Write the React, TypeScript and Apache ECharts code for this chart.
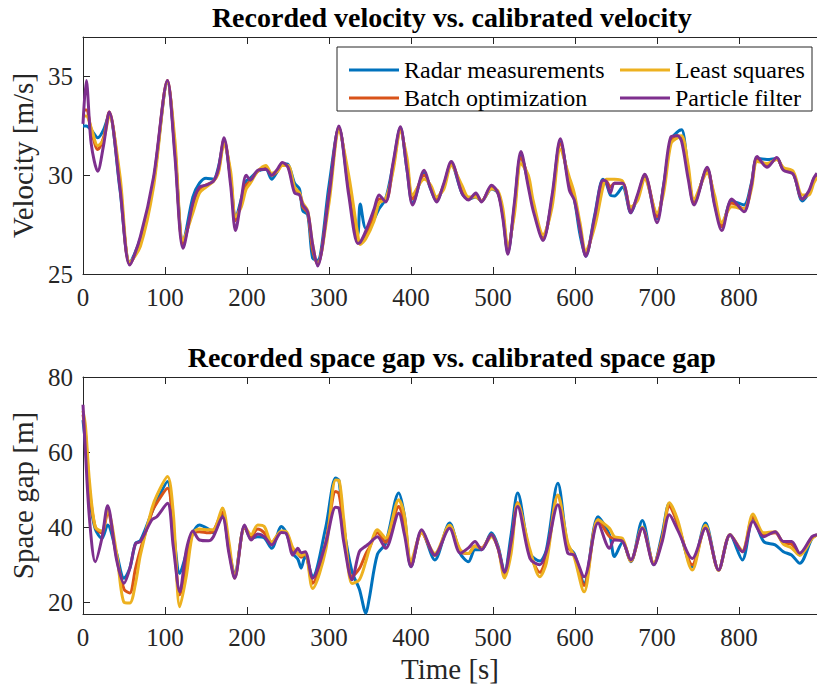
import React, { useEffect, useRef } from 'react';
import * as echarts from 'echarts';

// ---------- Velocity plot (top) ----------
const velTime = [
  0, 4, 10, 18, 25, 32, 45, 57, 70, 86,
  103, 112, 122, 134, 142, 150, 159, 165, 172, 180,
  186, 193, 199, 204, 213, 223, 230, 237, 243, 250,
  258, 264, 268, 274, 280, 286, 300, 312, 324, 335,
  338, 345, 355, 361, 369, 378, 387, 395, 402, 416,
  424, 431, 440, 449, 462, 470, 479, 486, 498, 506,
  512, 518, 526, 534, 543, 549, 561, 572, 582, 593,
  599, 606, 613, 624, 634, 638, 643, 648, 658, 668,
  676, 685, 700, 708, 717, 725, 730, 738, 745, 761,
  770, 779, 791, 806, 815, 822, 834, 846, 854, 866,
  877, 885, 891, 895,
];
const velRadar = [
  32.5, 32.5, 32.3, 31.9, 32.3, 33.1, 29.3, 25.6, 26.8, 29.7,
  34.7, 31.3, 26.6, 28.9, 29.6, 29.85, 29.8, 30.4, 31.7, 29.8,
  27.8, 28.8, 29.7, 29.85, 30.2, 30.3, 29.8, 30.2, 30.6, 30.55,
  29.6, 29.3, 28.2, 28.0, 25.8, 25.7, 29.5, 32.4, 29.3, 27.0,
  28.55, 27.3, 27.8, 28.3, 28.8, 30.5, 32.4, 30.3, 28.6, 30.1,
  29.3, 28.7, 29.5, 30.6, 29.1, 28.8, 28.9, 28.7, 29.3, 29.1,
  28.0, 26.1, 28.4, 31.0, 29.6, 28.4, 26.8, 28.8, 31.7, 29.5,
  28.8, 27.0, 25.9, 28.0, 29.8, 29.6, 29.0, 28.95, 29.4, 28.1,
  28.9, 29.9, 27.8, 29.5, 31.8, 32.2, 32.3, 30.2, 28.6, 30.3,
  28.6, 27.4, 28.7, 28.5, 29.6, 30.85, 30.8, 30.85, 30.3, 30.1,
  28.7, 29.1, 29.8, 30.0,
];
const velBatch = [
  33.3, 33.3, 32.3, 31.3, 31.9, 33.2, 29.6, 25.5, 26.7, 29.7,
  34.8, 31.4, 26.5, 28.4, 29.3, 29.5, 29.7, 30.2, 31.8, 29.9,
  27.7, 28.6, 29.5, 29.7, 30.2, 30.4, 30.0, 30.2, 30.6, 30.45,
  29.3, 29.1, 28.4, 28.1, 26.2, 25.5, 29.0, 32.4, 29.5, 26.7,
  26.6, 27.0, 28.0, 28.8, 28.7, 30.4, 32.3, 30.6, 28.8, 30.0,
  29.4, 28.8, 29.5, 30.6, 29.3, 28.8, 29.0, 28.7, 29.4, 29.1,
  28.0, 26.2, 28.3, 30.9, 29.8, 28.5, 26.8, 28.7, 31.6, 29.6,
  28.9, 27.3, 26.0, 27.7, 29.6, 29.7, 29.4, 29.6, 29.6, 28.2,
  28.9, 30.0, 27.9, 29.4, 31.8, 32.0, 31.9, 30.1, 28.6, 30.3,
  28.8, 27.4, 28.6, 28.3, 29.5, 30.85, 30.5, 30.85, 30.3, 30.1,
  28.8, 29.1, 29.8, 30.0,
];
const velLeastSq = [
  33.0, 33.0, 32.4, 31.5, 31.8, 33.0, 30.0, 25.6, 26.4, 29.4,
  34.7, 31.8, 26.7, 28.1, 29.1, 29.4, 29.7, 30.1, 31.6, 30.2,
  27.9, 28.4, 29.3, 29.6, 30.2, 30.5, 30.1, 30.2, 30.5, 30.5,
  29.4, 29.1, 28.6, 28.2, 26.5, 25.5, 28.6, 32.2, 30.0, 27.0,
  26.5, 26.8, 27.7, 28.6, 28.8, 30.2, 32.2, 30.9, 29.0, 29.8,
  29.5, 28.9, 29.3, 30.5, 29.5, 28.9, 28.9, 28.7, 29.3, 29.2,
  28.3, 26.4, 28.0, 30.6, 30.0, 28.7, 27.0, 28.4, 31.3, 29.9,
  29.1, 27.6, 26.2, 27.4, 29.4, 29.8, 29.8, 29.8, 29.7, 28.4,
  28.7, 29.8, 28.1, 29.1, 31.6, 31.9, 32.0, 30.5, 28.8, 30.1,
  29.0, 27.6, 28.4, 28.3, 29.3, 30.7, 30.6, 30.8, 30.4, 30.2,
  29.0, 29.0, 29.6, 29.9,
];
const velParticle = [
  32.6, 34.8, 31.6, 30.2, 31.5, 33.2, 29.4, 25.45, 26.9, 29.9,
  34.8, 31.0, 26.3, 28.6, 29.4, 29.5, 29.7, 30.3, 31.9, 29.5,
  27.2, 28.8, 30.0, 29.75, 30.25, 30.3, 30.0, 30.3, 30.65, 30.4,
  29.1, 29.0, 28.5, 28.15, 26.5, 25.4, 29.0, 32.5, 29.0, 26.55,
  26.6, 27.2, 28.3, 29.0, 28.65, 30.6, 32.45, 30.3, 28.5, 30.25,
  29.3, 28.65, 29.6, 30.7, 29.1, 28.75, 29.1, 28.65, 29.5, 29.1,
  27.8, 26.0, 28.6, 31.2, 29.4, 28.2, 26.7, 29.0, 31.85, 29.25,
  28.75, 27.3, 25.9, 27.9, 29.75, 29.7, 29.1, 29.6, 29.6, 28.1,
  29.0, 30.05, 27.6, 29.5, 31.95, 32.0, 31.7, 29.8, 28.5, 30.4,
  28.5, 27.2, 28.8, 28.15, 29.5, 30.95, 30.4, 30.9, 30.25, 30.05,
  28.8, 29.2, 29.85, 30.1,
];

// ---------- Space gap plot (bottom) ----------
const gapTime = [
  0, 3, 8, 15, 23, 30, 41, 50, 57, 64,
  70, 84, 90, 103, 110, 118, 126, 134, 142, 153,
  159, 170, 178, 185, 197, 205, 213, 221, 230, 242,
  248, 256, 262, 266, 271, 280, 296, 308, 312, 318,
  328, 337, 345, 349, 359, 369, 385, 392, 400, 413,
  429, 447, 460, 470, 478, 486, 498, 506, 514, 522,
  530, 545, 557, 565, 579, 591, 599, 611, 628, 642,
  648, 658, 668, 682, 696, 706, 715, 725, 743, 759,
  775, 789, 804, 817, 830, 844, 854, 864, 874, 889,
  895,
];
const gapRadar = [
  68.5, 62, 48, 39.5, 37, 40.6, 33, 26.4, 29, 35.7,
  36.5, 44, 47, 52.2, 40, 27.7, 33, 38.5, 40.6, 39.5,
  38.5, 43.5, 34, 27.5, 40.2, 37, 37.5, 37.2, 34.4, 40.2,
  38.5, 33, 31.5, 29.1, 32.5, 26.8, 40, 53.1, 52.5, 40,
  28.2, 23.5, 17.1, 21, 32.8, 35.7, 49.1, 43, 29.5, 39.0,
  31.3, 41.1, 33, 30.8, 34, 34, 38.5, 35, 28, 38,
  49.1, 33, 31, 34, 51.7, 35, 33, 25.1, 42.8, 38,
  32.2, 36, 30.8, 41.8, 30, 38, 46.4, 41, 29.5, 41.1,
  28.6, 38, 31.3, 42.5, 36.2, 35.3, 33.5, 32.6, 30.4, 37.1,
  38,
];
const gapBatch = [
  70, 65, 50, 40, 38.5, 44, 32, 23.5, 22.5, 29,
  34, 44, 46.5, 50.4, 40, 22, 30, 38.5, 38.8, 38.5,
  39, 44, 34, 26.8, 40, 37.5, 39.5, 38.5, 36, 38.8,
  38.5, 34, 33, 32, 33, 25.1, 36, 49.5, 49, 40,
  26.8, 29, 33, 34.5, 38.5, 36, 45.5, 41, 30, 38.5,
  32.5, 40.3, 33.5, 33, 35, 34.5, 38, 34.5, 27.5, 35,
  46.5, 33, 28, 32, 48.5, 35, 32.5, 24.5, 42, 37.5,
  37, 36.5, 31, 39.8, 30.3, 37, 45.5, 41, 30, 40,
  28.6, 38, 33.5, 42.8, 38, 38.5, 35.8, 35.5, 32.8, 37.2,
  38,
];
const gapLeastSq = [
  71, 67, 52, 40, 39, 44.5, 33, 20, 19.8, 25,
  32.6, 45, 48.5, 53.5, 44, 18.8, 27, 38.5, 39.5, 39.3,
  39.3, 45.1, 36, 26.5, 40.2, 38, 40.6, 40.2, 36, 39,
  38.8, 34.5, 33, 32.5, 33, 23.7, 34, 52.6, 52.5, 42,
  25, 26, 31, 34, 39.3, 37.1, 47.3, 43, 31, 38.5,
  33, 40.5, 34, 33, 35, 34.3, 37.5, 34.5, 26.5, 33,
  46.4, 34, 26.8, 30.5, 48.6, 36, 32, 22.8, 42, 39.7,
  37.5, 37, 31, 40, 30.5, 36.5, 46.5, 42, 28.6, 40.5,
  28.5, 38, 33.8, 43.5, 38.5, 38.8, 35.5, 34.5, 32.5, 37,
  38,
];
const gapParticle = [
  72.6, 60, 42, 30.8, 37, 45.7, 31.3, 25.1, 29, 35.6,
  36.2, 42.0, 42.8, 46.4, 35, 22.8, 34.0, 39.0, 36.6, 36.4,
  37.5, 42.8, 33, 26.4, 40.6, 36.6, 38.2, 37.5, 35.3, 38.6,
  38.3, 32.6, 34.4, 33.2, 33.5, 26.4, 35.7, 45.3, 45.1, 36,
  26.0, 33.5, 35, 35.7, 37.5, 34.4, 43.7, 38, 29.5, 39.3,
  32.6, 39.7, 33.1, 34.5, 36.2, 34.0, 38.0, 34.4, 28.0, 36,
  45.5, 31.7, 30.0, 33.5, 46.0, 33.1, 32.6, 26.8, 41.1, 34.4,
  36.6, 36.2, 31.3, 39.7, 30.0, 36, 43.3, 39.3, 31.7, 39.7,
  28.6, 38.0, 33.5, 41.5, 37.5, 38.8, 36.2, 36.2, 33.1, 37.5,
  38.0,
];

// ---------- Axes / labels ----------
const xTicks = [0, 100, 200, 300, 400, 500, 600, 700, 800];
const velTicks = [25, 30, 35];
const gapTicks = [20, 40, 60, 80];
const seriesNames = ['Radar measurements', 'Batch optimization', 'Least squares', 'Particle filter'];
const seriesColors = ['#0072BD', '#D95319', '#EDB120', '#7E2F8E'];
const titles = ['Recorded velocity vs. calibrated velocity', 'Recorded space gap vs. calibrated space gap'];

const FONT = 'Liberation Serif';
const AXIS_COLOR = '#262626';

function pairs(t: number[], v: number[]) {
  return t.map((x, i) => [x, v[i]]);
}

export default function App() {
  const ref = useRef<HTMLDivElement>(null);

  useEffect(() => {
    document.body.style.margin = '0';
    if (!ref.current) return;
    const chart = echarts.init(ref.current, null, { renderer: 'svg' });

    const X_MAX = 895;
    const plotLeft = 83;
    const plotWidth = 737.5;
    const centerX = plotLeft + plotWidth / 2;

    const mkTick = (values: number[]) => ({
      show: true, inside: true, length: 7, customValues: values,
      lineStyle: { color: AXIS_COLOR, width: 1 },
    });
    const mkLine = () => ({ show: true, onZero: false, lineStyle: { color: AXIS_COLOR, width: 1 } });
    const mkLabel = (values: number[], margin: number) => ({
      show: true, customValues: values, margin, fontSize: 25, fontFamily: FONT, fontWeight: 'normal', color: AXIS_COLOR,
    });
    const mkName = () => ({ fontSize: 29, fontFamily: FONT, fontWeight: 'normal', color: AXIS_COLOR });

    const xBottom = (gridIndex: number, name: string) => ({
      type: 'value', gridIndex, min: 0, max: X_MAX, position: 'bottom',
      axisLine: mkLine(),
      axisTick: mkTick(xTicks),
      axisLabel: mkLabel(xTicks, 11),
      splitLine: { show: false },
      name, nameLocation: 'middle', nameGap: 40,
      nameTextStyle: mkName(),
    });
    const xTop = (gridIndex: number) => ({
      type: 'value', gridIndex, min: 0, max: X_MAX, position: 'top',
      axisLine: mkLine(),
      axisTick: mkTick(xTicks),
      axisLabel: { show: false },
      splitLine: { show: false },
    });
    const yLeft = (gridIndex: number, min: number, max: number, ticks: number[], name: string) => ({
      type: 'value', gridIndex, min, max, position: 'left',
      axisLine: mkLine(),
      axisTick: mkTick(ticks),
      axisLabel: mkLabel(ticks, 10),
      splitLine: { show: false },
      name, nameLocation: 'middle', nameGap: 40,
      nameTextStyle: mkName(),
    });

    const velData = [velRadar, velBatch, velLeastSq, velParticle];
    const gapData = [gapRadar, gapBatch, gapLeastSq, gapParticle];

    const mk = (i: number, vals: number[], t: number[], xi: number, yi: number) => ({
      type: 'line', name: seriesNames[i], xAxisIndex: xi, yAxisIndex: yi,
      data: pairs(t, vals), showSymbol: false, smooth: 0.3,
      lineStyle: { width: 3, color: seriesColors[i] },
      itemStyle: { color: seriesColors[i] },
      silent: true,
    });

    const mkLegend = (left: number, names: string[]) => ({
      orient: 'vertical', top: 53, left, itemWidth: 50, itemHeight: 3, icon: 'rect', itemGap: 4,
      textStyle: { fontSize: 24, fontFamily: FONT, fontWeight: 'normal', color: '#000', lineHeight: 24 },
      data: names,
    });

    chart.setOption({
      animation: false,
      grid: [
        { left: plotLeft, top: 37, width: plotWidth, height: 237 },
        { left: plotLeft, top: 377, width: plotWidth, height: 237 },
      ],
      xAxis: [xBottom(0, ''), xTop(0), xBottom(1, 'Time [s]'), xTop(1)],
      yAxis: [
        yLeft(0, 25, 37, velTicks, 'Velocity [m/s]'),
        yLeft(1, 16.9, 80, gapTicks, 'Space gap [m]'),
      ],
      legend: [
        mkLegend(344, [seriesNames[0], seriesNames[1]]),
        mkLegend(615, [seriesNames[2], seriesNames[3]]),
      ],
      graphic: [
        {
          type: 'rect', z: 3, silent: true,
          shape: { x: 337, y: 47, width: 475, height: 64 },
          style: { fill: '#fff', stroke: AXIS_COLOR, lineWidth: 1 },
        },
        {
          type: 'text', x: centerX, y: 17, silent: true,
          style: { text: titles[0], font: `bold 28px ${FONT}`, fill: '#000', textAlign: 'center', textVerticalAlign: 'middle' },
        },
        {
          type: 'text', x: centerX, y: 357, silent: true,
          style: { text: titles[1], font: `bold 28px ${FONT}`, fill: '#000', textAlign: 'center', textVerticalAlign: 'middle' },
        },
      ],
      series: [
        ...velData.map((v, i) => mk(i, v, velTime, 0, 0)),
        ...gapData.map((v, i) => mk(i, v, gapTime, 2, 1)),
      ],
    });

    return () => chart.dispose();
  }, []);

  return <div ref={ref} style={{ width: 817, height: 692 }} />;
}
